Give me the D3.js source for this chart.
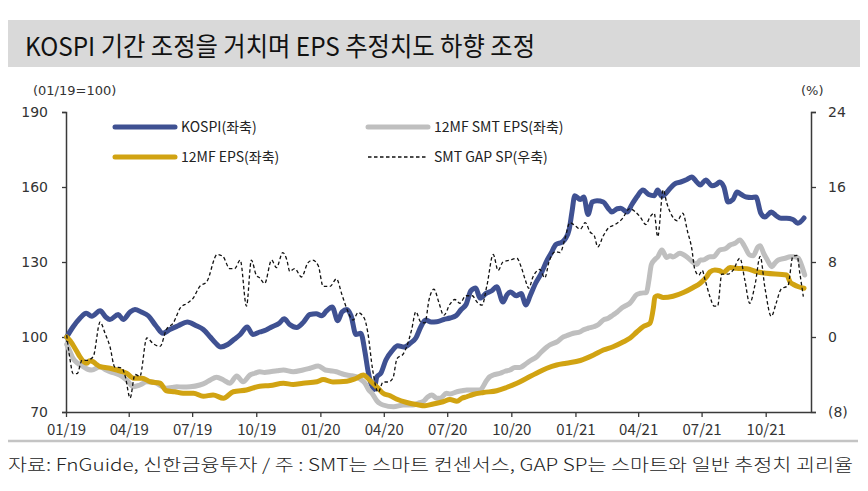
<!DOCTYPE html>
<html><head><meta charset="utf-8">
<script src="https://cdn.jsdelivr.net/npm/d3@7"></script>
<style>body{margin:0;background:#fff}svg{display:block}</style>
</head><body><div id="chart"></div>
<script>
const titleText = "KOSPI 기간 조정을 거치며 EPS 추정치도 하향 조정";
const sourceText = "자료: FnGuide, 신한금융투자 / 주 : SMT는 스마트 컨센서스, GAP SP는 스마트와 일반 추정치 괴리율";
const leftTicks = [70, 100, 130, 160, 190];
const rightTicks = [-8, 0, 8, 16, 24];
const xTickDates = ["2019-01-01","2019-04-01","2019-07-01","2019-10-01","2020-01-01","2020-04-01","2020-07-01","2020-10-01","2021-01-01","2021-04-01","2021-07-01","2021-10-01"];
const seriesNames = ["KOSPI(좌축)", "12MF SMT EPS(좌축)", "12MF EPS(좌축)", "SMT GAP SP(우축)"];

const kospi = [
["2019-01-02",100],["2019-01-11",104],["2019-01-21",107.5],["2019-01-30",109.5],["2019-02-07",108.3],["2019-02-19",110.5],["2019-02-27",108],["2019-03-05",107],["2019-03-17",109],["2019-03-24",107],["2019-04-03",110],["2019-04-10",111],["2019-04-19",110],["2019-04-29",108.5],["2019-05-10",104.5],["2019-05-20",101.5],["2019-05-30",103],["2019-06-11",104.5],["2019-06-24",106],["2019-07-07",104.5],["2019-07-17",103],["2019-07-27",100],["2019-08-04",97.5],["2019-08-11",96],["2019-08-21",97],["2019-08-30",99],["2019-09-08",101],["2019-09-18",104],["2019-09-26",101],["2019-10-06",102],["2019-10-15",102.8],["2019-10-23",104],["2019-11-03",105.5],["2019-11-10",107.3],["2019-11-18",105],["2019-11-28",103.8],["2019-12-08",106],["2019-12-17",109],["2019-12-26",109.3],["2020-01-03",108.5],["2020-01-10",110.5],["2020-01-18",112],["2020-01-26",106.5],["2020-02-01",110],["2020-02-08",111],["2020-02-14",108.5],["2020-02-21",101],["2020-02-28",101.5],["2020-03-05",94],["2020-03-09",87],["2020-03-14",81],["2020-03-18",79],["2020-03-22",84],["2020-03-28",85.6],["2020-04-04",90.8],["2020-04-13",94.5],["2020-04-21",96.5],["2020-04-30",96],["2020-05-09",97.5],["2020-05-17",99.6],["2020-05-24",104],["2020-05-31",106.8],["2020-06-08",106],["2020-06-16",106.1],["2020-06-26",107],["2020-07-05",107.6],["2020-07-14",108.6],["2020-07-21",111],["2020-07-28",113],["2020-08-04",118.5],["2020-08-11",119.6],["2020-08-17",115.6],["2020-08-26",117.5],["2020-09-03",118.5],["2020-09-10",120.1],["2020-09-19",114],["2020-09-25",117],["2020-09-30",118],["2020-10-08",116.5],["2020-10-15",117.4],["2020-10-22",112.8],["2020-10-28",116.5],["2020-11-05",121.6],["2020-11-13",125.5],["2020-11-20",130],["2020-11-27",133.5],["2020-12-04",137],["2020-12-13",138],["2020-12-18",139.5],["2020-12-23",143],["2020-12-27",150],["2020-12-31",156.5],["2021-01-08",155],["2021-01-13",156],["2021-01-19",149],["2021-01-25",154],["2021-02-01",154.5],["2021-02-10",154],["2021-02-17",151.5],["2021-02-22",150],["2021-03-02",151.3],["2021-03-07",151.5],["2021-03-16",150],["2021-03-23",153],["2021-03-30",156],["2021-04-08",158.8],["2021-04-16",157],["2021-04-24",156.5],["2021-04-29",158.8],["2021-05-05",156.3],["2021-05-11",157.5],["2021-05-17",159.5],["2021-05-25",161.5],["2021-06-01",162],["2021-06-10",163],["2021-06-17",164],["2021-06-24",162],["2021-06-29",160.8],["2021-07-07",162.8],["2021-07-16",160.5],["2021-07-22",161],["2021-07-27",162],["2021-08-02",160],["2021-08-08",154],["2021-08-15",155],["2021-08-21",158],["2021-08-27",157],["2021-09-03",156],["2021-09-10",155.8],["2021-09-17",156],["2021-09-24",149.5],["2021-09-30",148],["2021-10-09",150],["2021-10-16",148.5],["2021-10-23",147.5],["2021-10-31",147.5],["2021-11-09",147],["2021-11-16",145.5],["2021-11-25",147.6]
];

const smtEps = [
["2019-01-02",97],["2019-01-07",94],["2019-01-11",91.5],["2019-01-18",89.5],["2019-01-26",88.1],["2019-02-02",87],["2019-02-07",86.8],["2019-02-19",88.1],["2019-02-26",87],["2019-03-05",86.1],["2019-03-12",85.5],["2019-03-19",84.8],["2019-03-29",82.8],["2019-04-08",80.1],["2019-04-17",80.8],["2019-04-27",82.1],["2019-05-03",82],["2019-05-11",81.5],["2019-05-17",80.5],["2019-05-25",79.5],["2019-06-02",79.8],["2019-06-09",80.1],["2019-06-18",80],["2019-06-28",80.1],["2019-07-12",80.8],["2019-07-21",81.8],["2019-07-27",82.8],["2019-08-05",83.9],["2019-08-15",82.8],["2019-08-24",81.5],["2019-09-03",84.4],["2019-09-12",82.1],["2019-09-22",84.8],["2019-09-29",85.5],["2019-10-06",86.1],["2019-10-13",85.8],["2019-10-21",86.1],["2019-10-31",86.5],["2019-11-09",86.8],["2019-11-23",86.1],["2019-12-07",86.8],["2019-12-17",87.5],["2019-12-29",88.4],["2020-01-08",86.8],["2020-01-15",86.5],["2020-01-24",86.1],["2020-02-01",85.3],["2020-02-08",84.8],["2020-02-15",84.5],["2020-02-22",84.1],["2020-02-28",83],["2020-03-05",81.5],["2020-03-10",79],["2020-03-15",77.5],["2020-03-22",74.5],["2020-03-27",73.3],["2020-03-31",72.8],["2020-04-15",72.1],["2020-04-29",72.8],["2020-05-13",72.8],["2020-05-20",73.5],["2020-05-28",74.3],["2020-06-03",76],["2020-06-09",76.8],["2020-06-16",75.5],["2020-06-21",75.5],["2020-06-30",77.5],["2020-07-05",77.2],["2020-07-15",78.1],["2020-07-22",78.5],["2020-07-29",78.8],["2020-08-07",78.8],["2020-08-17",78.8],["2020-08-27",82.8],["2020-08-31",84.1],["2020-09-05",84.8],["2020-09-15",85.5],["2020-09-22",86.3],["2020-09-29",86.8],["2020-10-06",87.8],["2020-10-13",87.8],["2020-10-23",89.5],["2020-10-28",90.5],["2020-11-06",92],["2020-11-13",94],["2020-11-21",96],["2020-11-25",96.8],["2020-12-05",98],["2020-12-15",100.1],["2020-12-19",100.5],["2020-12-29",101.5],["2021-01-08",102.1],["2021-01-12",102.8],["2021-01-19",103.5],["2021-01-27",104.1],["2021-02-03",105],["2021-02-10",106.8],["2021-02-17",107.5],["2021-02-24",108.8],["2021-03-02",110],["2021-03-08",111.5],["2021-03-14",112.5],["2021-03-20",113.5],["2021-03-30",117],["2021-04-04",117.5],["2021-04-13",117.8],["2021-04-16",122],["2021-04-20",129],["2021-04-25",131],["2021-04-29",132],["2021-05-05",134.8],["2021-05-12",131.8],["2021-05-17",132.5],["2021-05-21",132],["2021-05-31",133.5],["2021-06-10",132],["2021-06-17",130.3],["2021-06-24",129],["2021-06-29",130.8],["2021-07-03",130.8],["2021-07-13",132.1],["2021-07-18",132.1],["2021-07-27",134.8],["2021-08-04",135.3],["2021-08-11",136.8],["2021-08-18",137.5],["2021-08-25",138.8],["2021-09-01",136.1],["2021-09-08",132.8],["2021-09-13",132.5],["2021-09-20",136.1],["2021-09-23",136.5],["2021-09-28",133.5],["2021-10-03",131],["2021-10-10",128.1],["2021-10-14",129.5],["2021-10-19",130.8],["2021-10-29",131.5],["2021-11-05",132.1],["2021-11-11",132.1],["2021-11-17",131.5],["2021-11-21",129],["2021-11-26",124.8]
];

const eps = [
["2019-01-02",100],["2019-01-07",98.5],["2019-01-11",96.8],["2019-01-17",94],["2019-01-21",92.1],["2019-01-27",90],["2019-01-31",89.5],["2019-02-04",90.5],["2019-02-09",90.1],["2019-02-14",89],["2019-02-19",88.1],["2019-02-26",87.8],["2019-03-05",87.5],["2019-03-15",86.8],["2019-03-21",86.3],["2019-03-29",85.5],["2019-04-08",83.5],["2019-04-20",83.5],["2019-05-02",82.1],["2019-05-16",81.5],["2019-05-25",78.5],["2019-06-06",78.1],["2019-06-18",77.5],["2019-07-03",77.5],["2019-07-17",76.3],["2019-07-31",76.8],["2019-08-15",75.5],["2019-08-29",78.1],["2019-09-17",78.8],["2019-10-06",80.3],["2019-10-21",80.6],["2019-11-09",81.5],["2019-11-23",81],["2019-12-07",81.5],["2019-12-27",82.1],["2020-01-05",83],["2020-01-19",82],["2020-02-08",82.3],["2020-02-20",83.3],["2020-03-03",84.8],["2020-03-09",83.5],["2020-03-16",81.5],["2020-03-24",79.5],["2020-03-31",77.5],["2020-04-10",76.5],["2020-04-19",75.2],["2020-05-04",73.8],["2020-05-18",73],["2020-05-30",72.5],["2020-06-11",73.2],["2020-06-25",74.1],["2020-07-05",75],["2020-07-15",74.3],["2020-07-22",75.5],["2020-07-29",76.1],["2020-08-07",77],["2020-08-22",77.8],["2020-09-10",78.5],["2020-09-24",79.8],["2020-10-09",81.5],["2020-10-23",83.5],["2020-11-06",85.5],["2020-11-21",87.5],["2020-12-05",88.8],["2020-12-19",89.5],["2021-01-08",90.6],["2021-01-27",92.8],["2021-02-10",94.8],["2021-02-24",96.1],["2021-03-11",98.1],["2021-03-20",99.5],["2021-03-30",102],["2021-04-08",104.1],["2021-04-18",105.5],["2021-04-23",112],["2021-04-25",116],["2021-04-29",116.5],["2021-05-07",115.8],["2021-05-21",116.3],["2021-06-05",117.8],["2021-06-19",119.8],["2021-06-29",121.5],["2021-07-08",124],["2021-07-13",126],["2021-07-20",126.8],["2021-07-27",126.5],["2021-08-01",125.8],["2021-08-11",127.8],["2021-08-20",127.5],["2021-09-04",127.3],["2021-09-18",126.1],["2021-10-02",125.5],["2021-10-31",124.8],["2021-11-05",122],["2021-11-10",121],["2021-11-17",120.1],["2021-11-25",119.5]
];

const gapSp = [
["2019-01-02",0.2],["2019-01-07",-2.5],["2019-01-11",-3.9],["2019-01-17",-3.9],["2019-01-24",-2.5],["2019-01-31",-2.5],["2019-02-09",-2.1],["2019-02-19",1.6],["2019-02-26",0.4],["2019-03-05",-1.0],["2019-03-12",-3.2],["2019-03-22",-3.3],["2019-03-27",-4.2],["2019-04-03",-6.5],["2019-04-10",-4.0],["2019-04-17",-4.2],["2019-04-27",-0.1],["2019-05-06",-0.7],["2019-05-16",-1.0],["2019-05-25",0.8],["2019-06-04",1.5],["2019-06-14",3.1],["2019-06-24",3.6],["2019-07-02",4.1],["2019-07-12",5.4],["2019-07-22",5.9],["2019-08-06",8.8],["2019-08-14",8.6],["2019-08-24",7.3],["2019-08-31",7.3],["2019-09-08",8.2],["2019-09-17",3.3],["2019-09-24",8.2],["2019-10-01",6.6],["2019-10-06",6.3],["2019-10-13",5.7],["2019-10-23",8.2],["2019-10-30",7.4],["2019-11-08",9.0],["2019-11-14",8.2],["2019-11-18",7.0],["2019-11-25",7.3],["2019-12-05",6.4],["2019-12-14",7.9],["2019-12-21",8.2],["2019-12-29",7.6],["2020-01-05",5.4],["2020-01-15",5.4],["2020-01-24",6.2],["2020-02-01",4.5],["2020-02-08",3.0],["2020-02-17",1.8],["2020-02-24",2.6],["2020-03-04",2.0],["2020-03-09",0.5],["2020-03-16",-3.5],["2020-03-24",-5.9],["2020-03-31",-4.8],["2020-04-07",-4.8],["2020-04-14",-4.4],["2020-04-20",-2.3],["2020-04-29",-1.8],["2020-05-04",-1.0],["2020-05-11",0.8],["2020-05-17",2.7],["2020-05-24",1.6],["2020-05-30",1.5],["2020-06-05",4.0],["2020-06-12",5.1],["2020-06-19",3.7],["2020-06-26",2.3],["2020-07-05",3.5],["2020-07-12",4.0],["2020-07-19",3.6],["2020-07-28",4.4],["2020-08-06",4.4],["2020-08-13",3.7],["2020-08-20",3.4],["2020-08-27",5.5],["2020-09-05",8.8],["2020-09-12",7.1],["2020-09-19",8.0],["2020-09-29",8.2],["2020-10-09",8.4],["2020-10-15",7.5],["2020-10-21",6.1],["2020-10-26",5.2],["2020-11-01",6.4],["2020-11-11",7.2],["2020-11-18",6.3],["2020-11-24",8.0],["2020-12-03",9.1],["2020-12-10",9.0],["2020-12-17",10.5],["2020-12-24",12.2],["2020-12-31",11.9],["2021-01-08",11.5],["2021-01-15",12.2],["2021-01-22",11.2],["2021-01-28",10.8],["2021-02-02",9.6],["2021-02-10",10.8],["2021-02-17",11.6],["2021-02-27",12.0],["2021-03-09",12.6],["2021-03-20",13.7],["2021-03-27",13.4],["2021-04-04",12.8],["2021-04-12",12.0],["2021-04-18",12.8],["2021-04-24",13.2],["2021-04-29",10.7],["2021-05-07",15.7],["2021-05-12",14.3],["2021-05-19",13.0],["2021-05-27",12.4],["2021-06-04",13.2],["2021-06-11",11.2],["2021-06-17",9.4],["2021-06-21",7.3],["2021-06-27",6.6],["2021-07-02",7.1],["2021-07-06",6.1],["2021-07-13",4.3],["2021-07-19",3.3],["2021-07-24",3.3],["2021-07-30",6.7],["2021-08-08",6.7],["2021-08-15",7.1],["2021-08-25",8.4],["2021-09-01",6.1],["2021-09-08",3.6],["2021-09-16",5.7],["2021-09-23",8.6],["2021-09-30",5.2],["2021-10-09",2.2],["2021-10-16",3.6],["2021-10-23",5.1],["2021-11-02",5.5],["2021-11-09",8.6],["2021-11-15",8.7],["2021-11-19",6.8],["2021-11-24",4.3]
];

const colors = {kospi:"#3f5192", smt:"#bfbfbf", eps:"#d1a312", gap:"#111111"};

const W = 868, H = 491;
const plotL = 66, plotR = 811, plotT = 112, plotB = 412;
const parse = d3.utcParse("%Y-%m-%d");
const svg = d3.select("#chart").append("svg").attr("width", W).attr("height", H);

svg.append("rect").attr("x", 8).attr("y", 20).attr("width", 852).attr("height", 47).attr("fill", "#d9d9d9");
svg.append("text").attr("x", 25).attr("y", 56).attr("font-family", "'Noto Sans CJK KR', sans-serif")
  .attr("font-size", 26).attr("font-weight", 400).attr("fill", "#111")
  .attr("textLength", 510).attr("lengthAdjust", "spacingAndGlyphs").text(titleText);

const x = d3.scaleUtc().domain([parse("2019-01-01"), parse("2021-12-05")]).range([plotL, plotR]);
const yL = d3.scaleLinear().domain([70, 190]).range([plotB, plotT]);
const yR = d3.scaleLinear().domain([-8, 24]).range([plotB, plotT]);

const axisColor = "#3a3a3a";
const numFont = "'DejaVu Sans', Verdana, sans-serif";

const gL = svg.append("g").attr("transform", `translate(${plotL},0)`)
  .call(d3.axisLeft(yL).tickValues(leftTicks).tickSize(4).tickPadding(14).tickFormat(d3.format("d")));
const gR = svg.append("g").attr("transform", `translate(${plotR},0)`)
  .call(d3.axisRight(yR).tickValues(rightTicks).tickSize(5).tickPadding(12)
    .tickFormat(d => d < 0 ? `(${Math.abs(d)})` : String(d)));
const gX = svg.append("g").attr("transform", `translate(0,${plotB})`)
  .call(d3.axisBottom(x).tickValues(xTickDates.map(parse)).tickSize(5).tickPadding(7)
    .tickFormat(d3.utcFormat("%m/%y")));

[gL, gR, gX].forEach(g => {
  g.select(".domain").attr("stroke", axisColor).attr("stroke-width", 1.5);
  g.selectAll(".tick line").attr("stroke", axisColor).attr("stroke-width", 1.3);
  g.selectAll(".tick text").attr("fill", "#333").attr("font-size", 14).attr("font-family", numFont);
});
gX.selectAll(".tick text").attr("font-family", "'Liberation Sans Narrow', 'Noto Sans CJK KR', sans-serif").attr("font-size", 15);
gX.select(".domain").attr("d", `M${plotL},0.5H${plotR}`);

svg.append("text").attr("x", 33).attr("y", 95).attr("font-family", numFont).attr("font-size", 13)
  .attr("fill", "#333").text("(01/19=100)");
svg.append("text").attr("x", 801).attr("y", 95).attr("font-family", numFont).attr("font-size", 13)
  .attr("fill", "#333").text("(%)");

const lineL = d3.line().x(d => x(parse(d[0]))).y(d => yL(d[1])).curve(d3.curveMonotoneX);
const lineR = d3.line().x(d => x(parse(d[0]))).y(d => yR(d[1])).curve(d3.curveMonotoneX);

svg.append("path").datum(kospi).attr("d", lineL).attr("fill", "none").attr("stroke", colors.kospi)
  .attr("stroke-width", 5).attr("stroke-linejoin", "round").attr("stroke-linecap", "round");
svg.append("path").datum(smtEps).attr("d", lineL).attr("fill", "none").attr("stroke", colors.smt)
  .attr("stroke-width", 5).attr("stroke-linejoin", "round").attr("stroke-linecap", "round");
svg.append("path").datum(eps).attr("d", lineL).attr("fill", "none").attr("stroke", colors.eps)
  .attr("stroke-width", 5).attr("stroke-linejoin", "round").attr("stroke-linecap", "round");
svg.append("path").datum(gapSp).attr("d", lineR).attr("fill", "none").attr("stroke", colors.gap)
  .attr("stroke-width", 1.3).attr("stroke-dasharray", "3.5,2.5");

const legend = [
  {name: seriesNames[0], color: colors.kospi, x: 115, y: 127, dash: null},
  {name: seriesNames[1], color: colors.smt, x: 368, y: 127, dash: null},
  {name: seriesNames[2], color: colors.eps, x: 115, y: 157, dash: null},
  {name: seriesNames[3], color: colors.gap, x: 368, y: 157, dash: "3.5,2.5"}
];
const lg = svg.append("g").selectAll("g").data(legend).join("g");
lg.append("line").attr("x1", d => d.x).attr("x2", d => d.x + 60).attr("y1", d => d.y).attr("y2", d => d.y)
  .attr("stroke", d => d.color).attr("stroke-width", d => d.dash ? 1.3 : 5)
  .attr("stroke-linecap", d => d.dash ? "butt" : "round").attr("stroke-dasharray", d => d.dash);
lg.append("text").attr("x", d => d.x + 66).attr("y", d => d.y + 5).attr("font-family", "'Noto Sans CJK KR', sans-serif")
  .attr("font-size", 14).attr("fill", "#222").text(d => d.name);

svg.append("line").attr("x1", 8).attr("x2", 858).attr("y1", 441).attr("y2", 441)
  .attr("stroke", "#c4c4c4").attr("stroke-width", 2.5);
svg.append("text").attr("x", 8).attr("y", 471).attr("font-family", "'Noto Sans CJK KR', sans-serif")
  .attr("font-size", 17).attr("font-weight", 300).attr("fill", "#222").attr("textLength", 845).attr("lengthAdjust", "spacingAndGlyphs")
  .text(sourceText);
</script></body></html>
